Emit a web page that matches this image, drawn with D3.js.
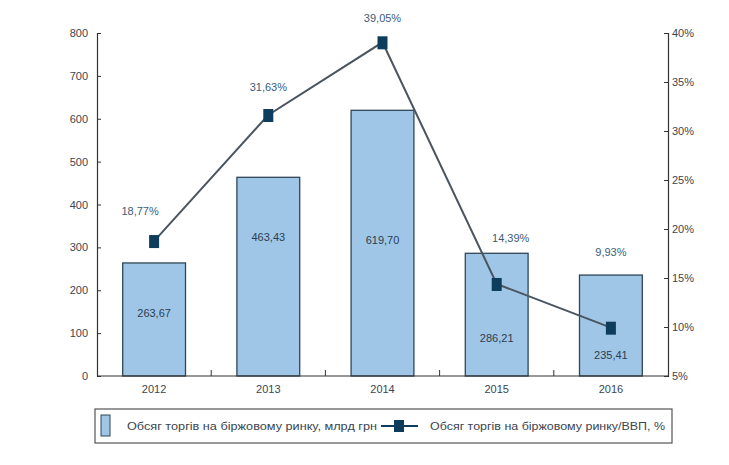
<!DOCTYPE html>
<html><head><meta charset="utf-8">
<script src="https://cdn.jsdelivr.net/npm/d3@7"></script>
<style>body{margin:0;background:#fff}svg{display:block}text{font-family:"Liberation Sans",Arial,sans-serif}</style>
</head><body><svg id="c" width="729" height="465"></svg>
<script>
const years = ["2012","2013","2014","2015","2016"];
const volume = [263.67, 463.43, 619.70, 286.21, 235.41];
const volumeLabels = ["263,67","463,43","619,70","286,21","235,41"];
const share = [18.77, 31.63, 39.05, 14.39, 9.93];
const shareLabels = ["18,77%","31,63%","39,05%","14,39%","9,93%"];
const leftTicks = [0,100,200,300,400,500,600,700,800];
const rightTicks = [5,10,15,20,25,30,35,40];
const legendBar = "Обсяг торгів на біржовому ринку, млрд грн";
const legendLine = "Обсяг торгів на біржовому ринку/ВВП, %";

const svg = d3.select("#c");
const L=97, R=668, T=33, B=376;
const x = d3.scaleBand().domain(years).range([L,R]).paddingInner(0.45).paddingOuter(0.225);
const y = d3.scaleLinear().domain([0,800]).range([B,T]);
const y2 = d3.scaleLinear().domain([5,40]).range([B,T]);
const txt="#3a4650", fs=11;

// bars
svg.append("g").selectAll("rect").data(volume).join("rect")
  .attr("x",(d,i)=>x(years[i])).attr("width",x.bandwidth())
  .attr("y",d=>y(d)).attr("height",d=>B-y(d))
  .attr("fill","#9fc6e7").attr("stroke","#2f4656").attr("stroke-width",1.3);

// axes
const ga = svg.append("g").attr("transform",`translate(${L},0)`)
  .call(d3.axisRight(y).tickValues(leftTicks).tickSize(4).tickFormat(d3.format("d")));
ga.selectAll("text").attr("x",-9).attr("text-anchor","end");
const gb = svg.append("g").attr("transform",`translate(${R},0)`)
  .call(d3.axisLeft(y2).tickValues(rightTicks).tickSize(4).tickFormat(d=>d+"%"));
gb.selectAll("text").attr("x",4).attr("text-anchor","start");
const gx = svg.append("g").attr("transform",`translate(0,${B})`)
  .call(d3.axisBottom(x).tickSize(0).tickPadding(9));
[ga,gb,gx].forEach(g=>{g.select(".domain").attr("stroke","#333").attr("stroke-width",1.2);
  g.selectAll("line").attr("stroke","#333");
  g.selectAll("text").attr("fill",txt).attr("font-size",fs).attr("font-family","Liberation Sans, Arial");});
gx.select(".domain").attr("d",`M${L},0H${R}`);
// category separator ticks
svg.append("g").selectAll("line").data(years.slice(1)).join("line")
  .attr("x1",d=>x(d)-x.step()*x.paddingInner()/2).attr("x2",d=>x(d)-x.step()*x.paddingInner()/2)
  .attr("y1",B).attr("y2",B-6).attr("stroke","#333");

// bar labels (vertical position relative to bar)
const labOff = [0.44, 0.30, 0.49, 0.69, 0.79];
svg.append("g").selectAll("text").data(volume).join("text")
  .attr("x",(d,i)=>x(years[i])+x.bandwidth()/2)
  .attr("y",(d,i)=> y(d)+(B-y(d))*labOff[i]+4)
  .attr("text-anchor","middle").attr("font-size",fs).attr("fill","#2c3e50")
  .text((d,i)=>volumeLabels[i]);

// line
const cx = i=>x(years[i])+x.bandwidth()/2;
svg.append("path").datum(share)
  .attr("d",d3.line().x((d,i)=>cx(i)).y(d=>y2(d)))
  .attr("fill","none").attr("stroke","#4a5560").attr("stroke-width",2);
svg.append("g").selectAll("rect").data(share).join("rect")
  .attr("x",(d,i)=>cx(i)-5).attr("y",d=>y2(d)-6).attr("width",10).attr("height",13)
  .attr("fill","#0e3c5c");
const off=[[-14,-26],[0,-24],[0,-20],[14,-42],[0,-72]];
svg.append("g").selectAll("text").data(share).join("text")
  .attr("x",(d,i)=>cx(i)+off[i][0]).attr("y",(d,i)=>y2(d)+off[i][1])
  .attr("text-anchor","middle").attr("font-size",fs).attr("fill","#3b5d7a")
  .text((d,i)=>shareLabels[i]);

// legend
const lg = svg.append("g");
lg.append("rect").attr("x",95).attr("y",409).attr("width",577).attr("height",34)
  .attr("fill","#fff").attr("stroke","#555").attr("stroke-width",1.2);
lg.append("rect").attr("x",101).attr("y",415).attr("width",9).attr("height",21)
  .attr("fill","#9fc6e7").attr("stroke","#2f4656");
lg.append("text").attr("x",127).attr("y",430).attr("font-size",11.5).attr("fill",txt)
  .attr("textLength",250).attr("lengthAdjust","spacingAndGlyphs").text(legendBar);
lg.append("line").attr("x1",381).attr("x2",418).attr("y1",426).attr("y2",426).attr("stroke","#0e3c5c").attr("stroke-width",2);
lg.append("rect").attr("x",394).attr("y",420).attr("width",10).attr("height",12).attr("fill","#0e3c5c");
lg.append("text").attr("x",430).attr("y",430).attr("font-size",11.5).attr("fill",txt)
  .attr("textLength",235).attr("lengthAdjust","spacingAndGlyphs").text(legendLine);
</script></body></html>
